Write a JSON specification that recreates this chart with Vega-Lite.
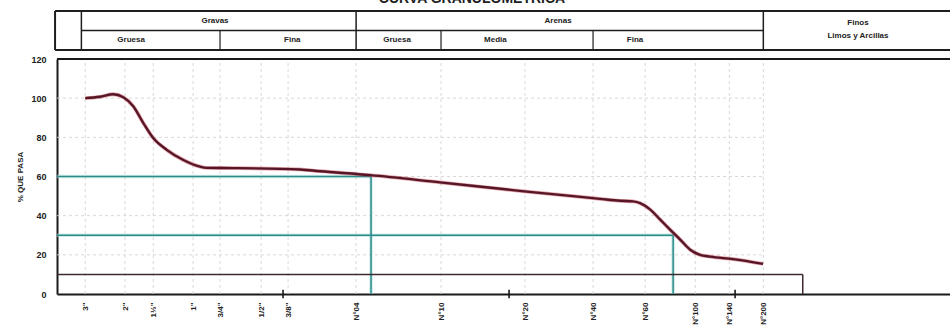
{
  "$schema": "https://vega.github.io/schema/vega-lite/v6.json",
  "background": "white",
  "padding": {"left": 16, "top": -8, "right": 0, "bottom": 0},
  "title": {
    "text": "CURVA GRANULOMÉTRICA",
    "font": "Liberation Sans",
    "fontSize": 14,
    "fontWeight": "bold",
    "color": "#1e1e1e",
    "anchor": "middle",
    "offset": 4,
    "dx": -12
  },
  "config": {
    "view": {"stroke": null},
    "font": "Liberation Sans"
  },
  "spacing": 4,
  "datasets": {
    "curve": [
      {"d": 75, "p": 100},
      {"d": 64.5, "p": 100.7},
      {"d": 56.4, "p": 102},
      {"d": 50.9, "p": 100.5},
      {"d": 46, "p": 95.9},
      {"d": 41.5, "p": 87.3},
      {"d": 37.5, "p": 79.6},
      {"d": 32.7, "p": 73.6},
      {"d": 27.6, "p": 68.4},
      {"d": 23.3, "p": 65},
      {"d": 21.8, "p": 64.4},
      {"d": 16.6, "p": 64.3},
      {"d": 8.41, "p": 63.6},
      {"d": 6.86, "p": 62.7},
      {"d": 4.12, "p": 60.7},
      {"d": 2.02, "p": 57},
      {"d": 0.835, "p": 52.3},
      {"d": 0.396, "p": 48.6},
      {"d": 0.323, "p": 47.6},
      {"d": 0.283, "p": 47.3},
      {"d": 0.263, "p": 46.4},
      {"d": 0.238, "p": 43.2},
      {"d": 0.215, "p": 38.1},
      {"d": 0.194, "p": 32.9},
      {"d": 0.175, "p": 27.8},
      {"d": 0.158, "p": 22.6},
      {"d": 0.143, "p": 20},
      {"d": 0.129, "p": 19.1},
      {"d": 0.102, "p": 17.8},
      {"d": 0.0752, "p": 15.4}
    ],
    "sieves": [
      {"d": 75, "name": "3\""},
      {"d": 50, "name": "2\""},
      {"d": 37.5, "name": "1½\""},
      {"d": 25, "name": "1\""},
      {"d": 19, "name": "3/4\""},
      {"d": 12.5, "name": "1/2\""},
      {"d": 9.5, "name": "3/8\""},
      {"d": 4.75, "name": "N°04"},
      {"d": 2, "name": "N°10"},
      {"d": 0.85, "name": "N°20"},
      {"d": 0.425, "name": "N°40"},
      {"d": 0.25, "name": "N°60"},
      {"d": 0.15, "name": "N°100"},
      {"d": 0.106, "name": "N°140"},
      {"d": 0.075, "name": "N°200"}
    ],
    "gridY": [{"p": 20}, {"p": 40}, {"p": 60}, {"p": 80}, {"p": 100}],
    "decades": [{"d": 10}, {"d": 1}, {"d": 0.1}],
    "frameTop": [{"x": 100, "x2": 0.0112, "y": 120}],
    "dlines": [
      {"x": 100, "x2": 4.08, "y": 60, "y2": 60, "kind": "D60"},
      {"x": 4.08, "x2": 4.08, "y": 60, "y2": 0, "kind": "D60"},
      {"x": 100, "x2": 0.188, "y": 30, "y2": 30, "kind": "D30"},
      {"x": 0.188, "x2": 0.188, "y": 30, "y2": 0, "kind": "D30"},
      {"x": 100, "x2": 0.0502, "y": 10, "y2": 10, "kind": "D10"},
      {"x": 0.0502, "x2": 0.0502, "y": 10, "y2": 0, "kind": "D10"}
    ],
    "headerLines": [
      {"x": 102, "x2": 0.0112, "y": 2, "y2": 2, "w": 2},
      {"x": 102, "x2": 0.0112, "y": 0, "y2": 0, "w": 2},
      {"x": 78, "x2": 0.075, "y": 1, "y2": 1, "w": 1.5},
      {"x": 102, "x2": 102, "y": 0, "y2": 2, "w": 2},
      {"x": 78, "x2": 78, "y": 0, "y2": 2, "w": 1.5},
      {"x": 4.75, "x2": 4.75, "y": 0, "y2": 2, "w": 1.5},
      {"x": 0.075, "x2": 0.075, "y": 0, "y2": 2, "w": 1.5},
      {"x": 19, "x2": 19, "y": 0, "y2": 1, "w": 1.2},
      {"x": 2, "x2": 2, "y": 0, "y2": 1, "w": 1.2},
      {"x": 0.425, "x2": 0.425, "y": 0, "y2": 1, "w": 1.2}
    ],
    "headerText": [
      {"d": 20, "y": 1.5, "label": "Gravas"},
      {"d": 0.607, "y": 1.5, "label": "Arenas"},
      {"d": 47, "y": 0.5, "label": "Gruesa"},
      {"d": 9.1, "y": 0.5, "label": "Fina"},
      {"d": 3.13, "y": 0.5, "label": "Gruesa"},
      {"d": 1.15, "y": 0.5, "label": "Media"},
      {"d": 0.277, "y": 0.5, "label": "Fina"},
      {"d": 0.0286, "y": 1.38, "label": "Finos"},
      {"d": 0.0286, "y": 0.7, "label": "Limos y Arcillas"}
    ]
  },
  "vconcat": [
    {
      "width": 893,
      "height": 39,
      "layer": [
        {
          "data": {"name": "headerLines"},
          "mark": {"type": "rule", "color": "#1e1e1e"},
          "encoding": {
            "x": {"field": "x", "type": "quantitative", "scale": {"type": "log", "domain": [0.0112, 100], "reverse": true, "nice": false}, "axis": null},
            "x2": {"field": "x2"},
            "y": {"field": "y", "type": "quantitative", "scale": {"domain": [0, 2], "nice": false}, "axis": null},
            "y2": {"field": "y2"},
            "strokeWidth": {"field": "w", "type": "quantitative", "scale": null, "legend": null}
          }
        },
        {
          "data": {"name": "headerText"},
          "mark": {"type": "text", "font": "Liberation Sans", "fontSize": 8, "fontWeight": "bold", "color": "#222", "baseline": "middle", "align": "center"},
          "encoding": {
            "x": {"field": "d", "type": "quantitative"},
            "y": {"field": "y", "type": "quantitative"},
            "text": {"field": "label"}
          }
        }
      ]
    },
    {
      "width": 893,
      "height": 235,
      "encoding": {
        "x": {
          "type": "quantitative",
          "scale": {"type": "log", "domain": [0.0112, 100], "reverse": true, "nice": false},
          "axis": {
            "values": [75, 50, 37.5, 25, 19, 12.5, 9.5, 4.75, 2, 0.85, 0.425, 0.25, 0.15, 0.106, 0.075],
            "labelExpr": "datum.value == 75 ? '3\"' : datum.value == 50 ? '2\"' : datum.value == 37.5 ? '1½\"' : datum.value == 25 ? '1\"' : datum.value == 19 ? '3/4\"' : datum.value == 12.5 ? '1/2\"' : datum.value == 9.5 ? '3/8\"' : datum.value == 4.75 ? 'N°04' : datum.value == 2 ? 'N°10' : datum.value == 0.85 ? 'N°20' : datum.value == 0.425 ? 'N°40' : datum.value == 0.25 ? 'N°60' : datum.value == 0.15 ? 'N°100' : datum.value == 0.106 ? 'N°140' : 'N°200'",
            "labelAngle": -90,
            "labelAlign": "right",
            "labelBaseline": "middle",
            "labelFont": "Liberation Sans",
            "labelFontSize": 8,
            "labelFontWeight": "bold",
            "labelColor": "#222",
            "labelPadding": 8,
            "labelOverlap": false,
            "labelFlush": false,
            "labelBound": false,
            "ticks": false,
            "grid": false,
            "domain": true,
            "domainColor": "#1a1a1a",
            "domainWidth": 2,
            "title": null
          }
        },
        "y": {
          "type": "quantitative",
          "scale": {"domain": [0, 120], "nice": false},
          "axis": {
            "values": [0, 20, 40, 60, 80, 100, 120],
            "labelFont": "Liberation Sans",
            "labelFontSize": 9,
            "labelFontWeight": "bold",
            "labelColor": "#222",
            "labelPadding": 11,
            "ticks": false,
            "grid": false,
            "domain": true,
            "domainColor": "#1a1a1a",
            "domainWidth": 2,
            "title": "% QUE PASA",
            "titleFont": "Liberation Sans",
            "titleFontSize": 8,
            "titleFontWeight": "bold",
            "titleColor": "#222",
            "titlePadding": 6
          }
        }
      },
      "layer": [
        {
          "data": {"name": "sieves"},
          "mark": {"type": "rule", "color": "#d4d4d4", "strokeWidth": 0.9, "strokeDash": [3, 3]},
          "encoding": {
            "x": {"field": "d"},
            "y": {"datum": 0},
            "y2": {"datum": 120}
          }
        },
        {
          "data": {"name": "gridY"},
          "mark": {"type": "rule", "color": "#d4d4d4", "strokeWidth": 0.9, "strokeDash": [3, 3]},
          "encoding": {
            "y": {"field": "p"},
            "x": {"datum": 100},
            "x2": {"datum": 0.075}
          }
        },
        {
          "data": {"name": "frameTop"},
          "mark": {"type": "rule", "color": "#1a1a1a", "strokeWidth": 2},
          "encoding": {
            "x": {"field": "x"},
            "x2": {"field": "x2"},
            "y": {"field": "y"}
          }
        },
        {
          "data": {"name": "dlines"},
          "transform": [{"filter": "datum.kind != 'D10'"}],
          "mark": {"type": "rule", "strokeWidth": 3.6, "color": "#a8dcda", "opacity": 0.55},
          "encoding": {
            "x": {"field": "x"},
            "x2": {"field": "x2"},
            "y": {"field": "y"},
            "y2": {"field": "y2"}
          }
        },
        {
          "data": {"name": "dlines"},
          "mark": {"type": "rule", "strokeWidth": 1.5},
          "encoding": {
            "x": {"field": "x"},
            "x2": {"field": "x2"},
            "y": {"field": "y"},
            "y2": {"field": "y2"},
            "color": {
              "field": "kind",
              "type": "nominal",
              "scale": {"domain": ["D60", "D30", "D10"], "range": ["#2b8c88", "#2b8c88", "#3d2a2e"]},
              "legend": null
            }
          }
        },
        {
          "data": {"name": "decades"},
          "mark": {"type": "rule", "color": "#1a1a1a", "strokeWidth": 1.6},
          "encoding": {
            "x": {"field": "d"},
            "y": {"datum": -2.2},
            "y2": {"datum": 2.2}
          }
        },
        {
          "data": {"name": "curve"},
          "mark": {"type": "line", "interpolate": "monotone", "color": "#c23a4a", "strokeWidth": 3.8, "opacity": 0.45},
          "encoding": {
            "x": {"field": "d"},
            "y": {"field": "p"}
          }
        },
        {
          "data": {"name": "curve"},
          "mark": {"type": "line", "interpolate": "monotone", "color": "#561626", "strokeWidth": 2.4},
          "encoding": {
            "x": {"field": "d"},
            "y": {"field": "p"}
          }
        },
        {
          "mark": {"type": "text", "text": "DIÁMETRO (mm)", "font": "Liberation Sans", "fontSize": 8, "fontWeight": "bold", "color": "#222", "align": "center", "baseline": "middle"},
          "encoding": {
            "x": {"datum": 1.34},
            "y": {"datum": 115}
          }
        }
      ]
    }
  ]
}
